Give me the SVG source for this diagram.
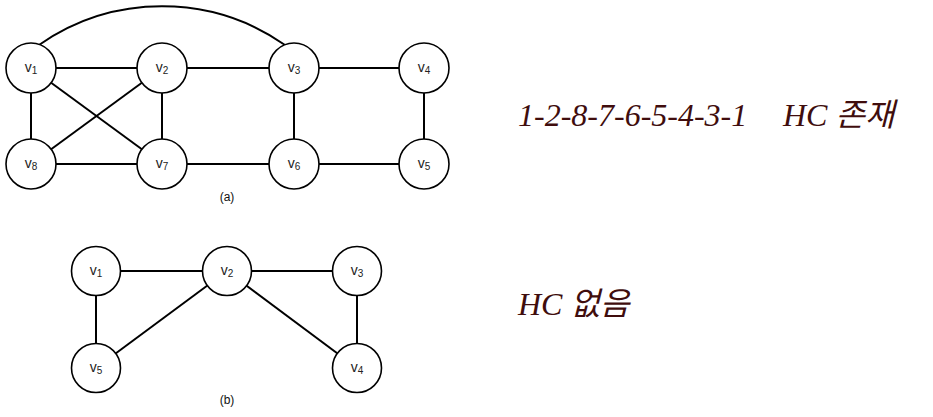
<svg xmlns="http://www.w3.org/2000/svg" width="933" height="417" viewBox="0 0 933 417">
<style>
.n{fill:#fff;stroke:#000;stroke-width:1.6}
.e{stroke:#000;stroke-width:2;fill:none}
.l{font-family:"Liberation Sans",Arial,sans-serif;font-size:14px;fill:#222;text-anchor:middle}
.s{font-size:10px}
.c{font-family:"Liberation Sans",Arial,sans-serif;font-size:12px;fill:#111;text-anchor:middle}
.h{font-family:"Liberation Serif","Noto Sans CJK KR",serif;font-style:italic;font-size:32px;fill:#400d0d}
</style>
<rect width="933" height="417" fill="#fff"/>
<g id="connectors">
<path class="e" d="M39 45 A215 215 0 0 1 285 45"/>
<line class="e" x1="31" y1="68" x2="162" y2="68"/>
<line class="e" x1="162" y1="68" x2="294" y2="68"/>
<line class="e" x1="294" y1="68" x2="424" y2="68"/>
<line class="e" x1="31" y1="68" x2="31" y2="164"/>
<line class="e" x1="162" y1="68" x2="162" y2="164"/>
<line class="e" x1="294" y1="68" x2="294" y2="164"/>
<line class="e" x1="424" y1="68" x2="424" y2="164"/>
<line class="e" x1="31" y1="164" x2="162" y2="164"/>
<line class="e" x1="162" y1="164" x2="294" y2="164"/>
<line class="e" x1="294" y1="164" x2="424" y2="164"/>
<line class="e" x1="31" y1="68" x2="162" y2="164"/>
<line class="e" x1="162" y1="68" x2="31" y2="164"/>
<line class="e" x1="96" y1="271" x2="227" y2="271"/>
<line class="e" x1="227" y1="271" x2="357" y2="271"/>
<line class="e" x1="96" y1="271" x2="96" y2="368"/>
<line class="e" x1="357" y1="271" x2="357" y2="368"/>
<line class="e" x1="227" y1="271" x2="96" y2="368"/>
<line class="e" x1="227" y1="271" x2="357" y2="368"/>
</g>
<g id="a-v1"><circle class="n" cx="31" cy="68" r="25"/><text class="l" x="31" y="72">v<tspan class="s" dy="2">1</tspan></text></g>
<g id="a-v2"><circle class="n" cx="162" cy="68" r="25"/><text class="l" x="162" y="72">v<tspan class="s" dy="2">2</tspan></text></g>
<g id="a-v3"><circle class="n" cx="294" cy="68" r="25"/><text class="l" x="294" y="72">v<tspan class="s" dy="2">3</tspan></text></g>
<g id="a-v4"><circle class="n" cx="424" cy="68" r="25"/><text class="l" x="424" y="72">v<tspan class="s" dy="2">4</tspan></text></g>
<g id="a-v8"><circle class="n" cx="31" cy="164" r="25"/><text class="l" x="31" y="168">v<tspan class="s" dy="2">8</tspan></text></g>
<g id="a-v7"><circle class="n" cx="162" cy="164" r="25"/><text class="l" x="162" y="168">v<tspan class="s" dy="2">7</tspan></text></g>
<g id="a-v6"><circle class="n" cx="294" cy="164" r="25"/><text class="l" x="294" y="168">v<tspan class="s" dy="2">6</tspan></text></g>
<g id="a-v5"><circle class="n" cx="424" cy="164" r="25"/><text class="l" x="424" y="168">v<tspan class="s" dy="2">5</tspan></text></g>
<text class="c" x="227" y="201">(a)</text>
<g id="b-v1"><circle class="n" cx="96" cy="271" r="24.5"/><text class="l" x="96" y="275">v<tspan class="s" dy="2">1</tspan></text></g>
<g id="b-v2"><circle class="n" cx="227" cy="271" r="24.5"/><text class="l" x="227" y="275">v<tspan class="s" dy="2">2</tspan></text></g>
<g id="b-v3"><circle class="n" cx="357" cy="271" r="24.5"/><text class="l" x="357" y="275">v<tspan class="s" dy="2">3</tspan></text></g>
<g id="b-v4"><circle class="n" cx="357" cy="368" r="24.5"/><text class="l" x="357" y="372">v<tspan class="s" dy="2">4</tspan></text></g>
<g id="b-v5"><circle class="n" cx="96" cy="368" r="24.5"/><text class="l" x="96" y="372">v<tspan class="s" dy="2">5</tspan></text></g>
<text class="c" x="227" y="404">(b)</text>
<text class="h" x="518" y="126">1-2-8-7-6-5-4-3-1</text>
<text class="h" x="783" y="126">HC 존재</text>
<text class="h" x="518" y="315">HC 없음</text>
</svg>
